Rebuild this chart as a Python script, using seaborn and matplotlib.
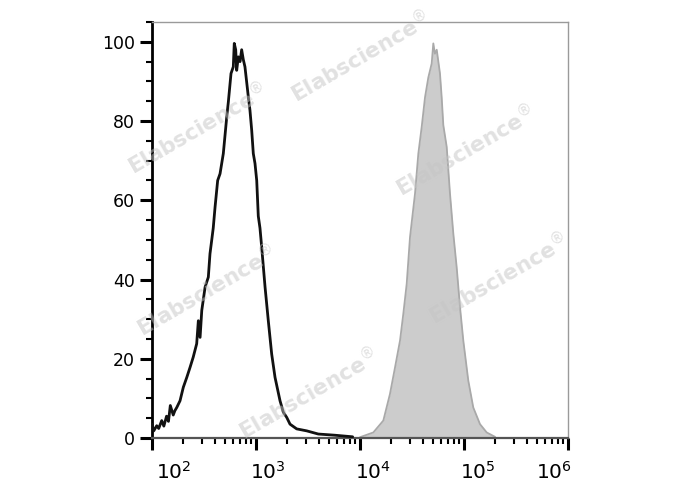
import matplotlib
matplotlib.use("Agg")
import matplotlib.pyplot as plt
import seaborn as sns
from matplotlib.ticker import LogLocator, MultipleLocator, NullFormatter
from matplotlib.transforms import ScaledTranslation

# ---- data ----
control_x = [100, 104, 111, 116, 124, 130, 138, 144, 150, 160, 166, 173, 186, 200, 216,
             232, 249, 269, 279, 290, 301, 324, 348, 361, 375, 388, 404, 428, 451, 485,
             523, 542, 575, 605, 618, 638, 652, 676, 702, 728, 755, 783, 843, 875, 909,
             942, 978, 1016, 1052, 1092, 1134, 1222, 1313, 1415, 1524, 1702, 1832, 1974,
             2123, 2461, 3076, 3972, 5750, 8500]
control_y = [3.5, 1.8, 3.1, 2.4, 4.4, 3.0, 5.5, 4.2, 8.2, 5.8, 6.9, 7.7, 9.4, 12.8, 15.3,
             17.8, 20.4, 23.8, 29.6, 25.4, 32.2, 38.1, 40.6, 46.5, 49.9, 53.0, 58.3, 65.0,
             66.7, 71.8, 81.0, 84.8, 92.0, 93.7, 99.6, 98.0, 92.8, 96.2, 95.0, 98.0, 95.5,
             93.7, 86.2, 82.7, 77.7, 71.8, 69.3, 65.0, 56.0, 53.0, 48.2, 38.1, 29.6, 21.2,
             15.3, 9.4, 6.5, 5.2, 3.5, 2.3, 1.8, 1.0, 0.7, 0.3]

stained_x = [10000, 13430, 16760, 19410, 21710, 24260, 26080, 28120, 30260, 33810, 36390,
             39190, 42190, 45400, 48880, 50700, 52500, 54660, 58750, 61000, 63240, 68170,
             73330, 78940, 85030, 91560, 98470, 109960, 122800, 142500, 165300, 198700]
stained_y = [0.2, 1.4, 4.4, 11.1, 17.8, 24.6, 31.3, 38.9, 50.7, 61.7, 71.8, 78.5, 86.0,
             91.0, 94.5, 99.6, 97.0, 98.0, 92.0, 86.0, 79.0, 73.5, 61.7, 51.6, 43.1, 33.0,
             24.6, 14.5, 7.7, 3.5, 1.4, 0.3]

y_ticks = [0, 20, 40, 60, 80, 100]
x_ticks = [1e2, 1e3, 1e4, 1e5, 1e6]
x_tick_labels = [r"$10^{2}$", r"$10^{3}$", r"$10^{4}$", r"$10^{5}$", r"$10^{6}$"]
watermark = r"Elabscience$^{\circledR}$"

# ---- style ----
sns.set_style("ticks")
plt.rcParams["font.family"] = ["DejaVu Sans"]
plt.rcParams["mathtext.fontset"] = "dejavusans"

W, H = 688, 490
fig = plt.figure(figsize=(W / 100, H / 100), dpi=100)
ax = fig.add_axes([152 / W, 1 - 438 / H, 416 / W, 416 / H])
ax.set_xscale("log")

ax.fill_between(stained_x, stained_y, 0, color="#cccccc", lw=0, zorder=1)
sns.lineplot(x=stained_x, y=stained_y, color="#a9a9a9", lw=1.3, ax=ax, zorder=2)
sns.lineplot(x=control_x, y=control_y, color="#111111", lw=2.0, ax=ax, zorder=3)

ax.set_xlim(1e2, 1e6)
ax.set_ylim(0, 105)
ax.set_xlabel("")
ax.set_ylabel("")

# spines
ax.spines["left"].set_color("black")
ax.spines["left"].set_linewidth(2.0)
ax.spines["bottom"].set_color("#555555")
ax.spines["bottom"].set_linewidth(1.6)
for s in ("top", "right"):
    ax.spines[s].set_visible(True)
    ax.spines[s].set_color("#9a9a9a")
    ax.spines[s].set_linewidth(1.0)

# ticks
ax.set_yticks(y_ticks)
ax.yaxis.set_minor_locator(MultipleLocator(5))
ax.set_xticks(x_ticks)
ax.set_xticklabels(x_tick_labels)
ax.xaxis.set_minor_locator(LogLocator(base=10, subs=range(2, 10), numticks=50))
ax.xaxis.set_minor_formatter(NullFormatter())

ax.tick_params(axis="both", which="major", length=8.5, width=2.2, color="black",
               direction="out", labelcolor="black")
ax.tick_params(axis="both", which="minor", length=4.2, width=1.5, color="black",
               direction="out")
ax.tick_params(axis="y", which="major", labelsize=12.5, pad=4)
ax.tick_params(axis="x", which="major", labelsize=14.5, pad=8)

offsets_px = [22, 12, 13, 14, -14]
for lab, dx in zip(ax.get_xticklabels(), offsets_px):
    lab.set_transform(lab.get_transform() + ScaledTranslation(dx / 100, 0, fig.dpi_scale_trans))

# watermarks
wm_pos = [(360, 56), (465, 150), (197, 128), (206, 290), (498, 278), (308, 393)]
for (px, py) in wm_pos:
    fig.text(px / W, 1 - py / H, watermark, rotation=30, ha="center", va="center",
             fontsize=15.5, fontweight="bold", color="#c4c4c4", alpha=0.5, zorder=10)

fig.savefig("out.png", dpi=100)
